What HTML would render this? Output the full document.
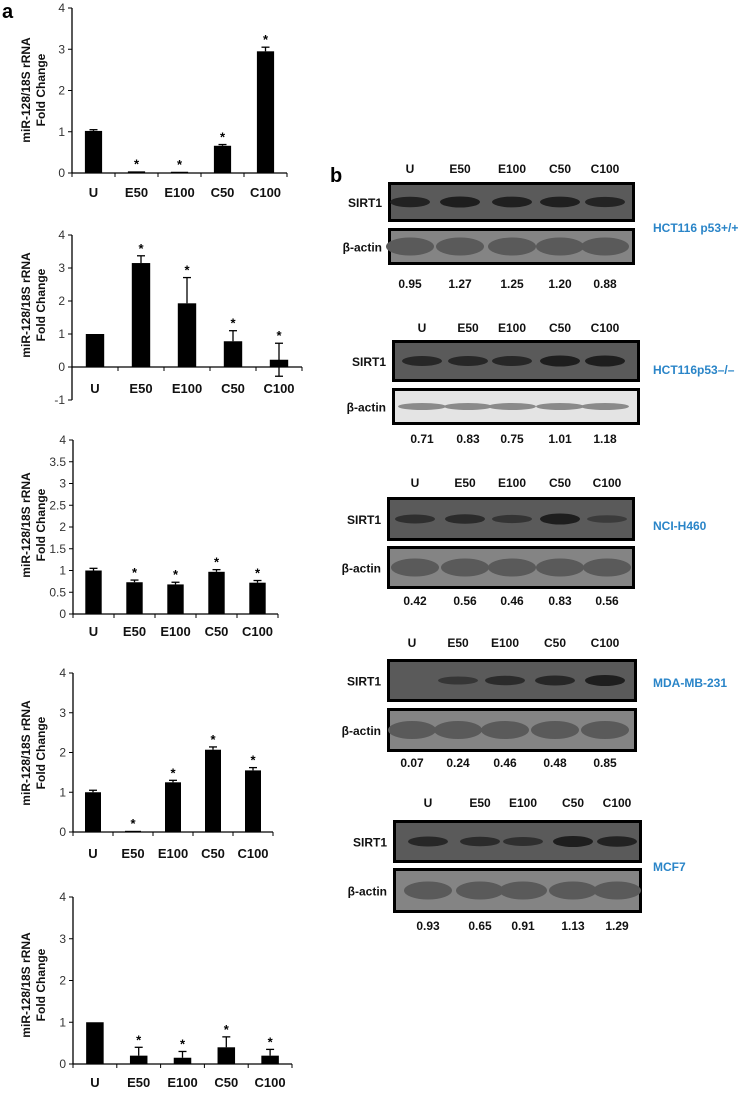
<!DOCTYPE html>
<html><head><meta charset="utf-8"><style>
body{margin:0;background:#fff;}
svg{display:block;font-family:"Liberation Sans",Arial,sans-serif;}
.tick{font-size:12px;fill:#333;}
.cat{font-size:13px;font-weight:bold;fill:#111;}
.ttl{font-size:12px;font-weight:bold;fill:#111;}
.bl{font-size:12px;font-weight:bold;fill:#111;}
.cell{font-size:12px;font-weight:bold;fill:#2a85c8;}
</style></head><body>
<svg id="fig" width="755" height="1095" viewBox="0 0 755 1095">
<text x="2" y="18" font-size="20" font-weight="bold">a</text>
<text x="330" y="182" font-size="20" font-weight="bold">b</text>
</svg>
<script>
const categories=["U","E50","E100","C50","C100"];
const chart1Values=[1.02,0.04,0.03,0.66,2.95];
const chart1Errors=[0.03,0,0,0.03,0.1];
const chart2Values=[1,3.15,1.93,0.78,0.22];
const chart2Errors=[0,0.22,0.78,0.32,0.5];
const chart3Values=[1,0.73,0.68,0.97,0.72];
const chart3Errors=[0.05,0.05,0.05,0.05,0.05];
const chart4Values=[1,0.03,1.25,2.07,1.55];
const chart4Errors=[0.05,0,0.05,0.07,0.07];
const chart5Values=[1,0.2,0.15,0.4,0.2];
const chart5Errors=[0,0.2,0.15,0.25,0.15];
const sig=[false,true,true,true,true];
const ticks1=["0","1","2","3","4"];
const ticks2=["-1","0","1","2","3","4"];
const ticks3=["0","0.5","1","1.5","2","2.5","3","3.5","4"];
const blotCells=["HCT116 p53+/+","HCT116p53\u2013/\u2013","NCI-H460","MDA-MB-231","MCF7"];
const blotRatios=[
["0.95","1.27","1.25","1.20","0.88"],
["0.71","0.83","0.75","1.01","1.18"],
["0.42","0.56","0.46","0.83","0.56"],
["0.07","0.24","0.46","0.48","0.85"],
["0.93","0.65","0.91","1.13","1.29"]];
const sirtIntensity=[
[0.9,1,0.95,0.95,0.85],
[0.8,0.8,0.8,1,1],
[0.6,0.7,0.45,1,0.3],
[0,0.4,0.7,0.8,1],
[0.8,0.7,0.6,1,0.9]];

const svg=document.getElementById('fig');
const NS='http://www.w3.org/2000/svg';
function mk(tag,attrs,parent){const e=document.createElementNS(NS,tag);for(const k in attrs)e.setAttribute(k,attrs[k]);(parent||svg).appendChild(e);return e;}

function chart(idx,values,errors,tickLabels,x0,x1,yTop,yZero,yMax,yMin,catY,axisTitleY){
  const g=mk('g',{});
  
  
  const ys=v=>yZero-(v/yMax)*(yZero-yTop);
  const n=categories.length,step=(x1-x0)/n;
  const xc=i=>x0+step*(i+0.5);
  const bottom=ys(yMin);
  mk('line',{x1:x0,y1:ys(yMax),x2:x0,y2:bottom,stroke:'#000','stroke-width':1.3},g);
  mk('line',{x1:x0,y1:yZero,x2:x1,y2:yZero,stroke:'#000','stroke-width':1.3},g);
  for(let i=0;i<=n;i++)mk('line',{x1:x0+step*i,y1:yZero,x2:x0+step*i,y2:yZero+4,stroke:'#000'},g);
  tickLabels.forEach(t=>{const v=parseFloat(t);const y=ys(v);
    mk('line',{x1:x0-4,y1:y,x2:x0,y2:y,stroke:'#000'},g);
    const tx=mk('text',{x:x0-7,y:y+4,'text-anchor':'end',class:'tick'},g);tx.textContent=t;
    
    });
  values.forEach((v,i)=>{
    const bw=step*0.4;const y=ys(Math.max(v,0));
    const r=mk('rect',{x:xc(i)-bw/2,y:y,width:bw,height:Math.max(yZero-y,1.5),fill:'#000'},g);
    
    
    const e=errors[i];
    if(e>0){const top=ys(v+e);const lo=idx===2&&i===4?ys(v-e):y;
      mk('line',{x1:xc(i),y1:top,x2:xc(i),y2:lo,stroke:'#000','stroke-width':1.3},g);
      mk('line',{x1:xc(i)-4,y1:top,x2:xc(i)+4,y2:top,stroke:'#000','stroke-width':1.3},g);
      if(lo!==y)mk('line',{x1:xc(i)-4,y1:lo,x2:xc(i)+4,y2:lo,stroke:'#000','stroke-width':1.3},g);}
    if(sig[i]){const st=mk('text',{x:xc(i),y:ys(v+e)-3,'text-anchor':'middle','font-size':13,'font-weight':'bold'},g);st.textContent='*';
      
      }
    const c=mk('text',{x:xc(i),y:catY,'text-anchor':'middle',class:'cat'},g);c.textContent=categories[i];
    
    
  });
  const t1=mk('text',{transform:`translate(30,${axisTitleY}) rotate(-90)`,'text-anchor':'middle',class:'ttl'},g);t1.textContent='miR-128/18S rRNA';
  
  
  const t2=mk('text',{transform:`translate(45,${axisTitleY}) rotate(-90)`,'text-anchor':'middle',class:'ttl'},g);t2.textContent='Fold Change';
  
  
}
chart(1,chart1Values,chart1Errors,ticks1,72,287,8,173,4,0,197,90);
chart(2,chart2Values,chart2Errors,ticks2,72,302,235,367,4,-1,393,305);
chart(3,chart3Values,chart3Errors,ticks3,73,278,440,614,4,0,636,525);
chart(4,chart4Values,chart4Errors,ticks1,73,273,673,832,4,0,858,753);
chart(5,chart5Values,chart5Errors,ticks1,73,292,897,1064,4,0,1087,985);

const panels=[
 {lab:173,b1:[388,182,635,222],b2:[388,228,635,265],num:288,lanes:[410,460,512,560,605],cellY:232,light:false},
 {lab:332,b1:[392,340,640,382],b2:[392,388,640,425],num:443,lanes:[422,468,512,560,605],cellY:374,light:true},
 {lab:487,b1:[387,497,635,541],b2:[387,546,635,589],num:605,lanes:[415,465,512,560,607],cellY:530,light:false},
 {lab:647,b1:[387,659,637,702],b2:[387,708,637,752],num:767,lanes:[412,458,505,555,605],cellY:687,light:false},
 {lab:807,b1:[393,820,642,863],b2:[393,868,642,913],num:930,lanes:[428,480,523,573,617],cellY:871,light:false}];
panels.forEach((p,pi)=>{
  const g=mk('g',{});
  
  
  p.lanes.forEach((x,i)=>{const t=mk('text',{x:x,y:p.lab,'text-anchor':'middle',class:'bl'},g);t.textContent=categories[i];
    
    });
  const [a,b,c,d]=p.b1;
  const r1=mk('rect',{x:a+1.5,y:b+1.5,width:c-a-3,height:d-b-3,fill:'#5a5a5a',stroke:'#000','stroke-width':3},g);
  
  
  p.lanes.forEach((x,i)=>{const k=sirtIntensity[pi][i];if(k>0)mk('ellipse',{cx:x,cy:(b+d)/2,rx:20,ry:3+k*2.5,fill:'#1e1e1e',opacity:0.3+0.7*k},g);});
  const [e,f,h,j]=p.b2;
  const r2=mk('rect',{x:e+1.5,y:f+1.5,width:h-e-3,height:j-f-3,fill:p.light?'#e4e4e4':'#848484',stroke:'#000','stroke-width':3},g);
  
  
  p.lanes.forEach(x=>mk('ellipse',{cx:x,cy:(f+j)/2,rx:24,ry:p.light?3.5:9,fill:p.light?'#8a8a8a':'#5a5a5a'},g));
  const s=mk('text',{x:e-6,y:(b+d)/2+5,'text-anchor':'end',class:'bl','font-size':13},g);s.textContent='SIRT1';
  
  
  const ba=mk('text',{x:e-6,y:(f+j)/2+5,'text-anchor':'end',class:'bl','font-size':13},g);ba.textContent='\u03b2-actin';
  
  
  p.lanes.forEach((x,i)=>{const t=mk('text',{x:x,y:p.num,'text-anchor':'middle',class:'bl','font-size':13},g);t.textContent=blotRatios[pi][i];
    
    });
  const cl=mk('text',{x:653,y:p.cellY,class:'cell'},g);cl.textContent=blotCells[pi];
  
  
});
</script>
</body></html>
